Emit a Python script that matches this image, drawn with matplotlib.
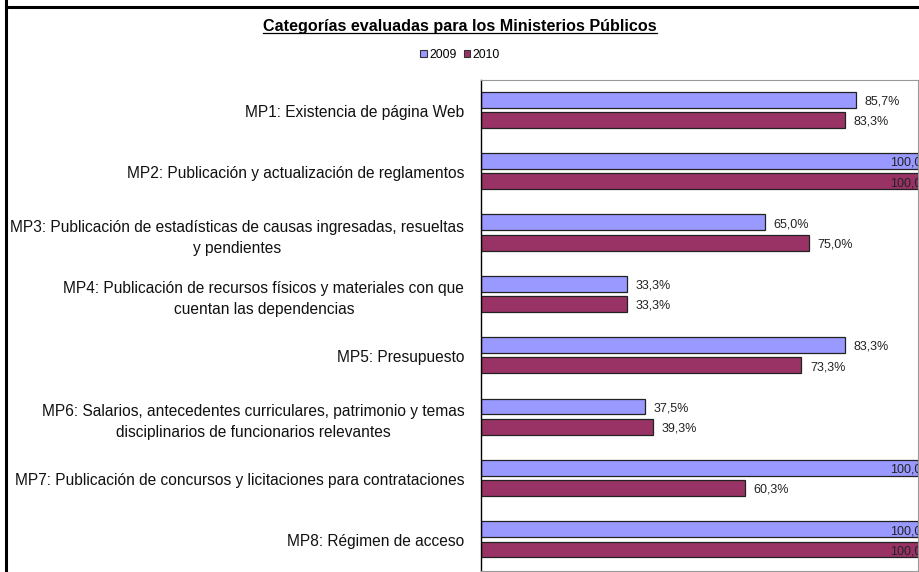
import matplotlib
matplotlib.use("Agg")
from matplotlib import pyplot as plt
from matplotlib.lines import Line2D
from matplotlib.patches import Patch
import numpy as np

plt.rcParams['font.family'] = ['Liberation Sans', 'DejaVu Sans']

# datos
categorias = [
    "MP1: Existencia de página Web",
    "MP2: Publicación y actualización de reglamentos",
    "MP3: Publicación de estadísticas de causas ingresadas, resueltas\ny pendientes",
    "MP4: Publicación de recursos físicos y materiales con que\ncuentan las dependencias",
    "MP5: Presupuesto",
    "MP6: Salarios, antecedentes curriculares, patrimonio y temas\ndisciplinarios de funcionarios relevantes",
    "MP7: Publicación de concursos y licitaciones para contrataciones",
    "MP8: Régimen de acceso",
]
valores_2009 = [85.7, 100.0, 65.0, 33.3, 83.3, 37.5, 100.0, 100.0]
valores_2010 = [83.3, 100.0, 75.0, 33.3, 73.3, 39.3, 60.3, 100.0]
series = ["2009", "2010"]
colores = ["#9999FF", "#993366"]

fig = plt.figure(figsize=(9.2, 5.72), dpi=100)
ax = fig.add_axes([481 / 920, 1 - 571 / 572, 437 / 920, 491 / 572])

y = np.arange(len(categorias))
alto = 0.26
ax.barh(y - 0.18, valores_2009, height=alto, color=colores[0], edgecolor="#222222", linewidth=0.9)
ax.barh(y + 0.15, valores_2010, height=alto, color=colores[1], edgecolor="#222222", linewidth=0.9)

# etiquetas de valor (las de 100% quedan cortadas en el borde, como en Excel)
for pos, vals in ((y - 0.18, valores_2009), (y + 0.15, valores_2010)):
    for yy, v in zip(pos, vals):
        x = v + 2 if v < 95 else 93.6
        ax.text(x, yy + 0.03, f"{v:.1f}%".replace(".", ","), ha="left", va="center",
                fontsize=9, color="#222222", clip_on=True)

ax.set_xlim(0, 100)
ax.set_ylim(len(categorias) - 0.5, -0.5)
ax.set_xticks([])
ax.set_yticks(y)
ax.set_yticklabels(categorias, fontsize=11.2, multialignment="center", color="#111111",
                   linespacing=1.5)
ax.tick_params(axis="y", length=0, pad=12)
for s in ("top", "right", "bottom"):
    ax.spines[s].set_color("#999999")
    ax.spines[s].set_linewidth(0.8)
ax.spines["left"].set_color("black")
ax.spines["left"].set_linewidth(1.0)

# titulo subrayado
titulo = fig.text(0.5, 1 - 27 / 572, "Categorías evaluadas para los Ministerios Públicos",
                  ha="center", va="center", fontsize=11.6, fontweight="bold")

handles = [Patch(facecolor=c, edgecolor="#333333", linewidth=0.8) for c in colores]
fig.legend(handles, series, loc="center", bbox_to_anchor=(0.5, 1 - 55 / 572), ncol=2,
           frameon=False, fontsize=8.7, handlelength=0.55, handleheight=0.55,
           handletextpad=0.2, columnspacing=0.6, borderpad=0)

# borde del recuadro (arriba e izquierda)
fig.add_artist(Line2D([6 / 920, 1], [1 - 6.5 / 572] * 2, color="black", linewidth=2.2))
fig.add_artist(Line2D([6 / 920] * 2, [0, 1], color="black", linewidth=2.2))

fig.canvas.draw()
bb = titulo.get_window_extent().transformed(fig.transFigure.inverted())
fig.add_artist(Line2D([bb.x0, bb.x1], [bb.y0 + 0.002] * 2, color="black", linewidth=0.9))

fig.savefig("out.png", dpi=100)
